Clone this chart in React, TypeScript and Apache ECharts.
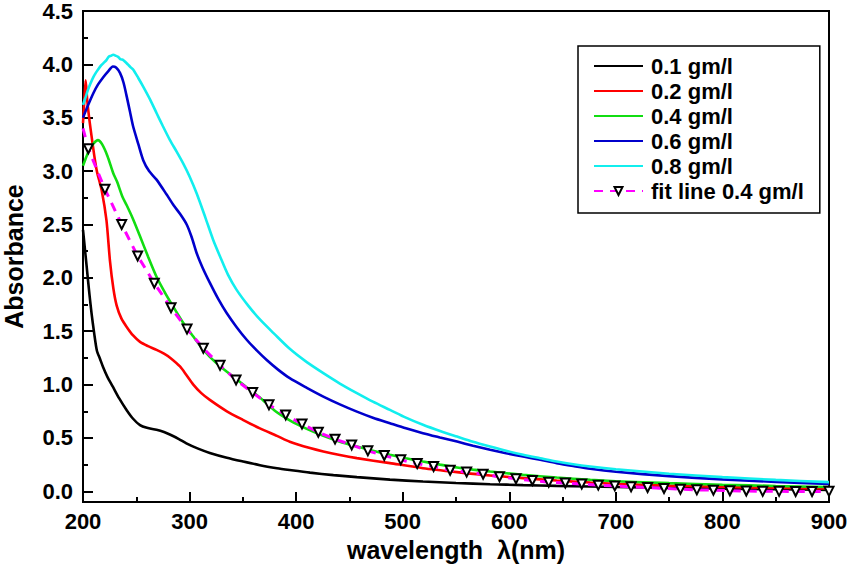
import React, { useEffect, useRef } from "react";
import * as echarts from "echarts";

const FONT = '"Liberation Sans", Arial, Helvetica, sans-serif';

const X_MIN = 200;
const X_MAX = 900;
const X_STEP = 100;
const Y_MIN = -0.1;
const Y_MAX = 4.5;
const Y_MAJOR = [0, 0.5, 1.0, 1.5, 2.0, 2.5, 3.0, 3.5, 4.0, 4.5];
const Y_MINOR = [0.25, 0.75, 1.25, 1.75, 2.25, 2.75, 3.25, 3.75, 4.25];

const NAMES = ["0.1 gm/l", "0.2 gm/l", "0.4 gm/l", "0.6 gm/l", "0.8 gm/l", "fit line 0.4 gm/l"];

const black: [number, number][] = [
  [200, 2.45], [201.5, 2.3], [203.5, 2.1], [206, 1.85], [208, 1.67], [210.5, 1.48], [213, 1.32],
  [216, 1.24], [219, 1.16], [223, 1.07], [228, 0.98], [234, 0.87], [241, 0.76], [247, 0.68],
  [253.5, 0.62], [260, 0.595], [269, 0.576], [276, 0.555], [282, 0.53], [290, 0.49], [297, 0.45],
  [308, 0.4], [319, 0.36], [335, 0.315], [350, 0.28], [366, 0.245], [382, 0.217], [394, 0.2],
  [413, 0.175], [435, 0.152], [457, 0.133], [488, 0.11], [519, 0.092], [550, 0.078], [582, 0.067],
  [613, 0.058], [644, 0.051], [676, 0.045], [700, 0.04], [750, 0.032], [800, 0.025], [850, 0.019],
  [900, 0.014],
];

const red: [number, number][] = [
  [200, 3.45], [201, 3.62], [202.5, 3.85], [204, 3.66], [206, 3.48], [208, 3.33], [210.5, 3.15],
  [213, 3.0], [217.5, 2.82], [222, 2.54], [225.3, 2.16], [228.5, 1.9], [231.6, 1.74], [236, 1.62],
  [241, 1.54], [247, 1.46], [253.5, 1.4], [261, 1.36], [269, 1.325], [276, 1.29], [282, 1.25],
  [291, 1.17], [297, 1.09], [303.5, 1.0], [311, 0.92], [319, 0.857], [335, 0.75], [350, 0.67],
  [366, 0.59], [382, 0.52], [394, 0.465], [413, 0.405], [425.5, 0.373], [441, 0.34], [457, 0.311],
  [488, 0.264], [519, 0.217], [551, 0.18], [582, 0.148], [613, 0.124], [644.5, 0.101], [676, 0.082],
  [700, 0.07], [750, 0.053], [800, 0.042], [850, 0.033], [900, 0.027],
];

const green: [number, number][] = [
  [200, 3.05], [203, 3.13], [206, 3.2], [210, 3.26], [214, 3.29], [218, 3.25], [223, 3.14],
  [228.4, 2.98], [232, 2.9], [237, 2.76], [241, 2.68], [247, 2.55], [253.5, 2.39], [261, 2.2],
  [269, 2.01], [277, 1.86], [284.7, 1.73], [294, 1.58], [303.5, 1.45], [311, 1.35], [319, 1.26],
  [330, 1.16], [341, 1.075], [353, 0.98], [366, 0.88], [380, 0.755], [394, 0.665], [410, 0.585],
  [425.5, 0.52], [441, 0.465], [457, 0.42], [472, 0.38], [488, 0.342], [503, 0.31], [519, 0.279],
  [535, 0.25], [551, 0.223], [566, 0.203], [582, 0.185], [613, 0.154], [644.5, 0.129], [676, 0.108],
  [700, 0.095], [750, 0.077], [800, 0.062], [850, 0.05], [900, 0.04],
];

const blue: [number, number][] = [
  [200, 3.5], [204, 3.6], [209.7, 3.73], [214, 3.81], [219, 3.88], [224, 3.94], [228, 3.98],
  [231, 3.97], [234.7, 3.92], [238, 3.83], [241, 3.7], [244, 3.56], [247, 3.42], [252, 3.25],
  [256.6, 3.1], [262, 3.0], [269, 2.92], [278.5, 2.78], [285, 2.68], [291, 2.6], [297.3, 2.5],
  [302, 2.38], [306.7, 2.23], [312, 2.1], [319.2, 1.95], [327, 1.8], [334.8, 1.67], [344, 1.54],
  [353.6, 1.42], [363, 1.32], [372.4, 1.23], [383, 1.14], [394, 1.06], [410, 0.97], [425.5, 0.888],
  [441, 0.815], [457, 0.747], [472, 0.69], [488, 0.638], [503, 0.59], [519, 0.545], [535, 0.505],
  [551, 0.466], [566, 0.427], [582, 0.389], [597, 0.357], [613, 0.326], [629, 0.295], [644.5, 0.264],
  [660, 0.237], [676, 0.211], [700, 0.183], [750, 0.142], [800, 0.112], [850, 0.088], [900, 0.07],
];

const cyan: [number, number][] = [
  [200, 3.62], [202, 3.68], [205, 3.77], [207, 3.82], [209.7, 3.88], [212, 3.92], [214, 3.95],
  [217, 3.99], [219, 4.01], [222, 4.04], [224, 4.07], [226, 4.08], [228.4, 4.09], [231, 4.08],
  [233, 4.07], [235, 4.05], [237.8, 4.04], [240, 4.02], [242, 4.0], [245, 3.97], [247.2, 3.95],
  [252, 3.87], [256.6, 3.79], [263, 3.67], [269.2, 3.54], [275, 3.42], [281.6, 3.29], [288, 3.18],
  [294.1, 3.07], [300, 2.95], [306.7, 2.79], [315, 2.56], [322, 2.36], [328.6, 2.2], [336, 2.03],
  [344, 1.89], [355, 1.74], [366, 1.61], [380, 1.47], [394, 1.335], [410, 1.21], [425.5, 1.107],
  [441, 1.01], [457, 0.92], [472, 0.84], [488, 0.763], [503, 0.69], [519, 0.623], [535, 0.565],
  [551, 0.513], [566, 0.465], [582, 0.42], [597, 0.38], [613, 0.342], [629, 0.31], [644.5, 0.279],
  [660, 0.253], [676, 0.232], [700, 0.207], [750, 0.165], [800, 0.133], [850, 0.107], [900, 0.086],
];

const fitStart: [number, number] = [200, 3.4];
const fit: [number, number][] = [
  [205, 3.21], [220.6, 2.83], [236.3, 2.5], [251.3, 2.205], [266.9, 1.95], [282.6, 1.72],
  [297.6, 1.52], [312.9, 1.34], [328.6, 1.18], [343.6, 1.044], [359.2, 0.925], [374.5, 0.81],
  [390.2, 0.716], [405.5, 0.63], [420.8, 0.554], [436.5, 0.489], [452.1, 0.435], [467.3, 0.379],
  [482.7, 0.335], [498.2, 0.295], [513.6, 0.26], [529, 0.232], [544.5, 0.198], [560, 0.18],
  [575.4, 0.161], [590.8, 0.136], [606.3, 0.117], [621.7, 0.101], [637, 0.086], [652.6, 0.078],
  [668, 0.068], [683.5, 0.058], [699, 0.051], [714.3, 0.042], [729.8, 0.036], [745.2, 0.027],
  [760.6, 0.02], [776, 0.014], [791.5, 0.011], [807, 0.006], [822.4, 0.003], [837.8, 0.0],
  [853.2, 0.0], [868.7, -0.002], [884.1, -0.002], [900, 0.0],
];

const COLORS = ["#000000", "#ff0000", "#11dd11", "#0000cc", "#11eeee", "#ff00ff"];

function lineSeries(name: string, data: [number, number][], color: string) {
  return {
    name,
    type: "line",
    data,
    smooth: 0.25,
    showSymbol: false,
    symbol: "none",
    color,
    lineStyle: { color, width: 2.6 },
    z: 3,
  };
}

export default function App() {
  const ref = useRef<HTMLDivElement>(null);

  useEffect(() => {
    if (!ref.current) return;
    const chart = echarts.init(ref.current, null, { renderer: "svg" });
    const axisText = { color: "#000", fontWeight: "bold", fontFamily: FONT };
    const gridBox = { left: 83, right: 21, top: 11, bottom: 76, containLabel: false, outerBoundsMode: "none" };
    chart.setOption({
      animation: false,
      backgroundColor: "#ffffff",
      grid: [
        {
          ...gridBox,
          show: true,
          borderColor: "#000",
          borderWidth: 2,
          backgroundColor: "transparent",
        },
        { ...gridBox, show: false },
      ],
      legend: {
        orient: "vertical",
        left: 578,
        top: 46,
        borderColor: "#000",
        borderWidth: 1.5,
        padding: [9, 16, 11, 15],
        itemWidth: 49,
        itemHeight: 10,
        itemGap: 3,
        data: NAMES.map((n, i) => (i < 5 ? { name: n, itemStyle: { opacity: 0 } } : { name: n })),
        textStyle: {
          ...axisText,
          fontSize: 22,
          lineHeight: 22,
          padding: [0, 0, 0, 3],
        },
      },
      xAxis: [
        {
          type: "value",
          gridIndex: 0,
          min: X_MIN,
          max: X_MAX,
          interval: X_STEP,
          name: "wavelength  λ(nm)",
          nameLocation: "middle",
          nameGap: 35,
          nameTextStyle: { ...axisText, fontSize: 25 },
          axisLine: { show: true, onZero: false, lineStyle: { color: "#000", width: 2 } },
          axisTick: { show: true, inside: true, length: 10, lineStyle: { color: "#000", width: 2 } },
          minorTick: { show: true, splitNumber: 2, length: 5, lineStyle: { color: "#000", width: 2 } },
          axisLabel: { ...axisText, fontSize: 22, margin: 8 },
          splitLine: { show: false },
          minorSplitLine: { show: false },
        },
        {
          type: "value",
          gridIndex: 1,
          min: X_MIN,
          max: X_MAX,
          show: false,
        },
      ],
      yAxis: [
        {
          type: "value",
          gridIndex: 0,
          min: Y_MIN,
          max: Y_MAX,
          name: "Absorbance",
          nameLocation: "middle",
          nameRotate: 90,
          nameGap: 57,
          nameTextStyle: { ...axisText, fontSize: 25 },
          axisLine: { show: true, onZero: false, lineStyle: { color: "#000", width: 2 } },
          axisTick: {
            show: true,
            inside: true,
            length: 10,
            customValues: Y_MAJOR,
            lineStyle: { color: "#000", width: 2 },
          },
          axisLabel: {
            ...axisText,
            fontSize: 22,
            margin: 10,
            customValues: Y_MAJOR,
            formatter: (v: number) => v.toFixed(1),
          },
          splitLine: { show: false },
        },
        {
          type: "value",
          gridIndex: 1,
          min: Y_MIN,
          max: Y_MAX,
          position: "left",
          axisLine: { show: false, onZero: false },
          axisTick: {
            show: true,
            inside: true,
            length: 5,
            customValues: Y_MINOR,
            lineStyle: { color: "#000", width: 2 },
          },
          axisLabel: { show: false },
          splitLine: { show: false },
        },
      ],
      series: [
        lineSeries(NAMES[0], black, COLORS[0]),
        lineSeries(NAMES[1], red, COLORS[1]),
        lineSeries(NAMES[2], green, COLORS[2]),
        lineSeries(NAMES[3], blue, COLORS[3]),
        lineSeries(NAMES[4], cyan, COLORS[4]),
        {
          name: NAMES[5],
          type: "line",
          data: [{ value: fitStart, symbol: "none" }, ...fit.map((p) => ({ value: p }))],
          smooth: false,
          showSymbol: true,
          symbol: "triangle",
          symbolRotate: 180,
          symbolSize: 9,
          color: COLORS[5],
          itemStyle: { color: "#ffffff", borderColor: "#000", borderWidth: 2 },
          lineStyle: { color: COLORS[5], width: 3, type: [9, 7] },
          z: 5,
        },
      ],
    });
    return () => chart.dispose();
  }, []);

  return (
    <div
      ref={ref}
      style={{ position: "fixed", left: 0, top: 0, width: 850, height: 578, background: "#fff" }}
    />
  );
}
